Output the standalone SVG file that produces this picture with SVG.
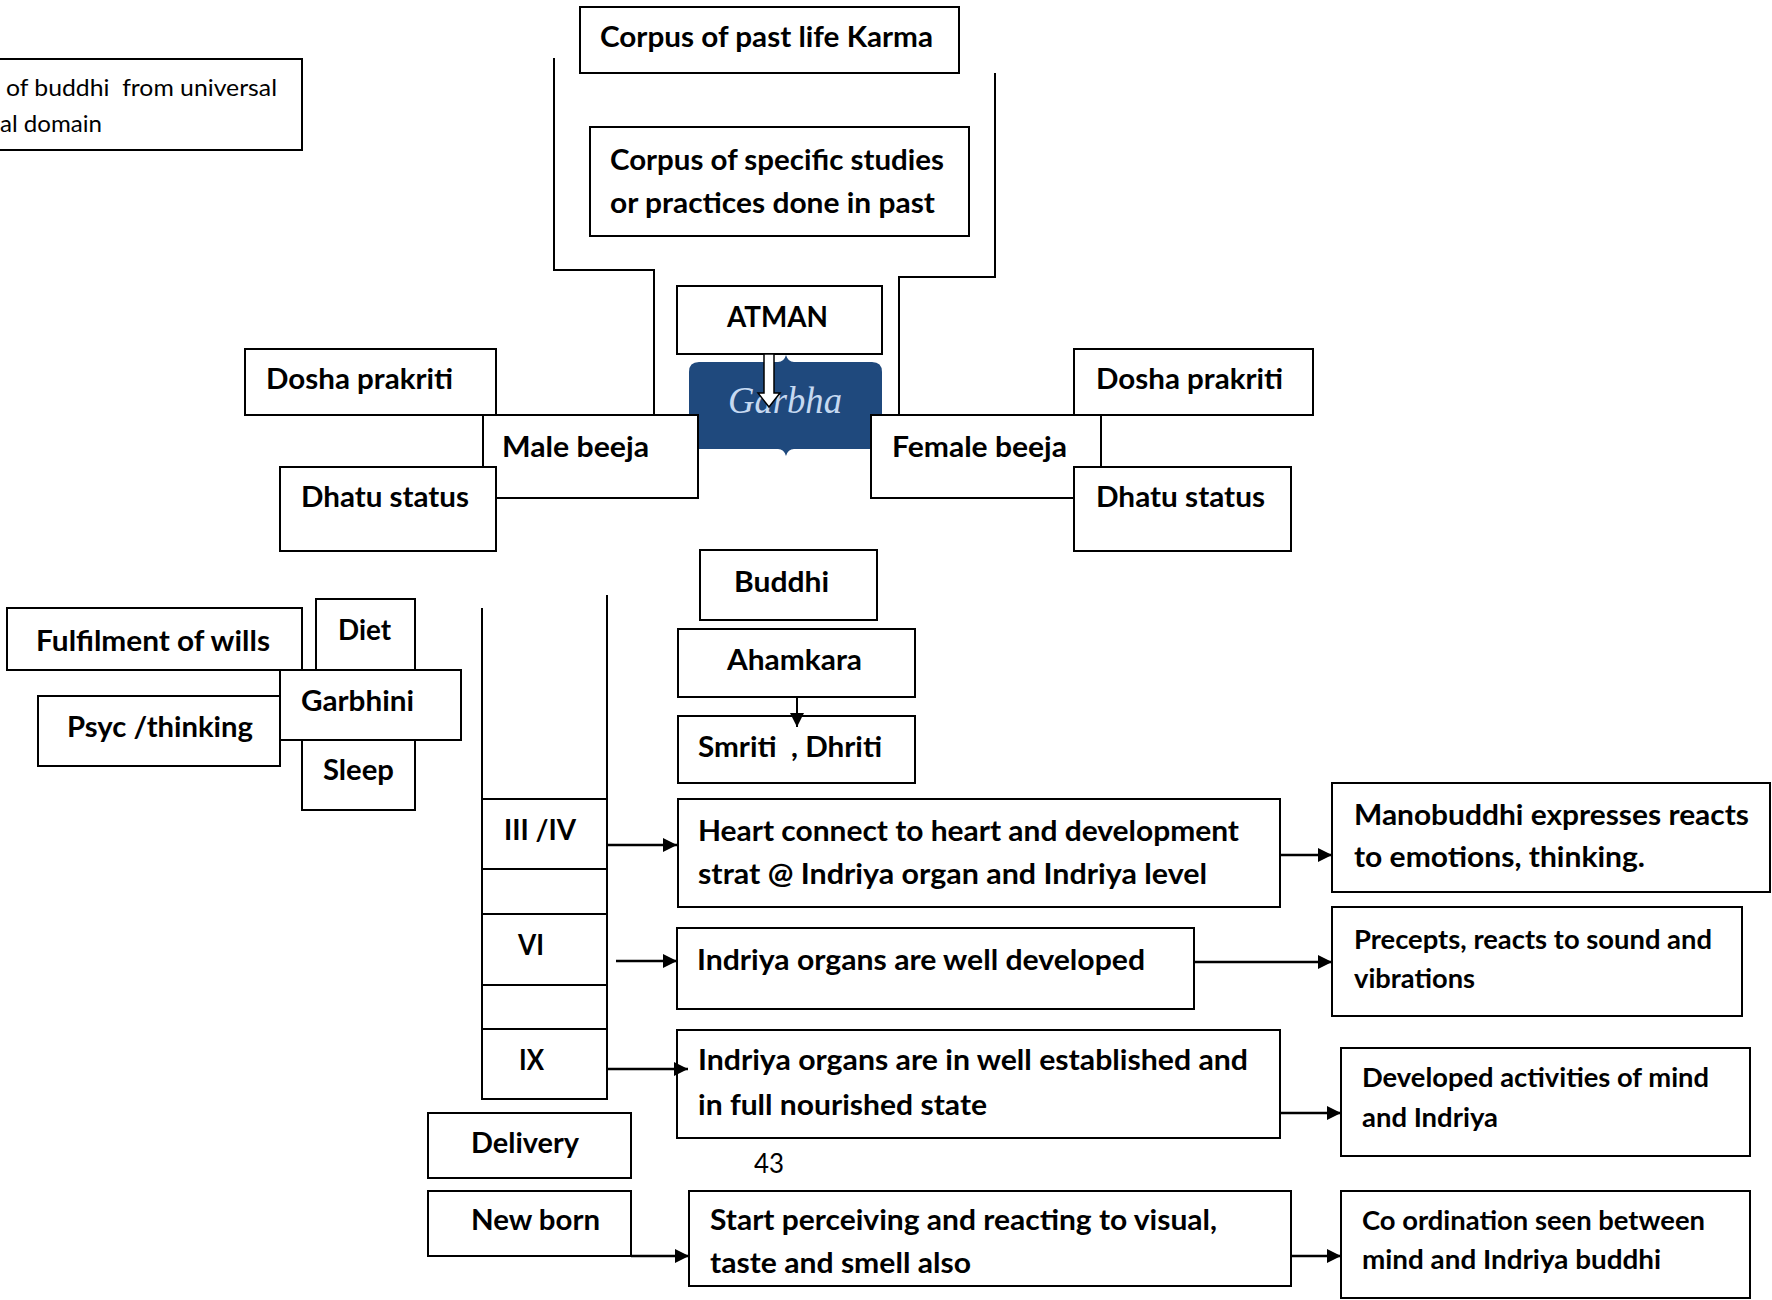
<svg xmlns="http://www.w3.org/2000/svg" width="1772" height="1300" viewBox="0 0 1772 1300">
<style>
.b{fill:#fff;stroke:#000;stroke-width:2}
.t{font-family:Lato,"Liberation Sans",sans-serif;font-weight:bold;font-size:29px;fill:#000}
.s{font-family:Lato,"Liberation Sans",sans-serif;font-weight:bold;font-size:26px;fill:#000}
.r{font-family:Lato,"Liberation Sans",sans-serif;font-weight:normal;font-size:24px;fill:#000}
.ln{fill:none;stroke:#000;stroke-width:2}
.ar{fill:none;stroke:#000;stroke-width:2.5;marker-end:url(#ah)}
</style>
<defs>
<marker id="ah" markerUnits="userSpaceOnUse" markerWidth="15" markerHeight="15" refX="14" refY="7" orient="auto">
<path d="M0,0 L14,7 L0,14 Z" fill="#000"/>
</marker>
</defs>
<rect width="1772" height="1300" fill="#fff"/>

<g id="connectors-brackets">
<polyline class="ln" points="554,58 554,270 654,270 654,415"/>
<polyline class="ln" points="995,73 995,277 899,277 899,415"/>
</g>

<g id="n-buddhi-universal">
<rect class="b" x="-10" y="59" width="312" height="91"/>
<text class="r" x="6" y="96" textLength="271" lengthAdjust="spacingAndGlyphs" xml:space="preserve">of buddhi  from universal</text>
<text class="r" x="0" y="132" textLength="102" lengthAdjust="spacingAndGlyphs">al domain</text>
</g>

<g id="n-karma">
<rect class="b" x="580" y="7" width="379" height="66"/>
<text class="t" x="600" y="47" textLength="333" lengthAdjust="spacingAndGlyphs">Corpus of past life Karma</text>
</g>

<g id="n-studies">
<rect class="b" x="590" y="127" width="379" height="109"/>
<text class="t" x="610" y="170" textLength="334" lengthAdjust="spacingAndGlyphs">Corpus of specific studies</text>
<text class="t" x="610" y="213" textLength="325" lengthAdjust="spacingAndGlyphs">or practices done in past</text>
</g>

<g id="n-atman">
<rect class="b" x="677" y="286" width="205" height="68"/>
<text class="t" x="727" y="327" textLength="101" lengthAdjust="spacingAndGlyphs">ATMAN</text>
</g>

<g id="n-garbha">
<path d="M689,372 Q689,362 699,362 L778,362 Q784,362 786,355 Q788,362 794,362 L872,362 Q882,362 882,372 L882,449 L794,449 Q788,449 786,456 Q784,449 778,449 L689,449 Z" fill="#1f497d"/>
<text x="728" y="413" font-family="'Liberation Serif','DejaVu Serif',serif" font-style="italic" font-size="38" fill="#c6d9f1" textLength="114" lengthAdjust="spacingAndGlyphs">Garbha</text>
</g>

<g id="n-dosha-l">
<rect class="b" x="245" y="349" width="251" height="66"/>
<text class="t" x="266" y="389" textLength="187" lengthAdjust="spacingAndGlyphs">Dosha prakriti</text>
</g>
<g id="n-male">
<rect class="b" x="483" y="415" width="215" height="83"/>
<text class="t" x="502" y="457" textLength="147" lengthAdjust="spacingAndGlyphs">Male beeja</text>
</g>
<g id="n-dhatu-l">
<rect class="b" x="280" y="467" width="216" height="84"/>
<text class="t" x="301" y="507" textLength="168" lengthAdjust="spacingAndGlyphs">Dhatu status</text>
</g>

<g id="n-dosha-r">
<rect class="b" x="1074" y="349" width="239" height="66"/>
<text class="t" x="1096" y="389" textLength="187" lengthAdjust="spacingAndGlyphs">Dosha prakriti</text>
</g>
<g id="n-female">
<rect class="b" x="871" y="415" width="230" height="83"/>
<text class="t" x="892" y="457" textLength="175" lengthAdjust="spacingAndGlyphs">Female beeja</text>
</g>
<g id="n-dhatu-r">
<rect class="b" x="1074" y="467" width="217" height="84"/>
<text class="t" x="1096" y="507" textLength="169" lengthAdjust="spacingAndGlyphs">Dhatu status</text>
</g>

<g id="n-buddhi">
<rect class="b" x="700" y="550" width="177" height="70"/>
<text class="t" x="734" y="592" textLength="95" lengthAdjust="spacingAndGlyphs">Buddhi</text>
</g>
<g id="n-ahamkara">
<rect class="b" x="678" y="629" width="237" height="68"/>
<text class="t" x="727" y="670" textLength="135" lengthAdjust="spacingAndGlyphs">Ahamkara</text>
</g>
<g id="n-smriti">
<rect class="b" x="678" y="716" width="237" height="67"/>
<text class="t" x="698" y="757" textLength="184" lengthAdjust="spacingAndGlyphs" xml:space="preserve">Smriti  , Dhriti</text>
</g>

<g id="n-fulfilment">
<rect class="b" x="7" y="608" width="295" height="62"/>
<text class="t" x="36" y="651" textLength="234" lengthAdjust="spacingAndGlyphs">Fulfilment of wills</text>
</g>
<g id="n-diet">
<rect class="b" x="316" y="599" width="99" height="71"/>
<text class="t" x="338" y="640" textLength="53" lengthAdjust="spacingAndGlyphs">Diet</text>
</g>
<g id="n-garbhini">
<rect class="b" x="280" y="670" width="181" height="70"/>
<text class="t" x="301" y="711" textLength="113" lengthAdjust="spacingAndGlyphs">Garbhini</text>
</g>
<g id="n-psyc">
<rect class="b" x="38" y="696" width="242" height="70"/>
<text class="t" x="67" y="737" textLength="186" lengthAdjust="spacingAndGlyphs">Psyc /thinking</text>
</g>
<g id="n-sleep">
<rect class="b" x="302" y="740" width="113" height="70"/>
<text class="t" x="323" y="780" textLength="71" lengthAdjust="spacingAndGlyphs">Sleep</text>
</g>

<g id="n-months">
<line class="ln" x1="482" y1="608" x2="482" y2="799"/>
<line class="ln" x1="607" y1="595" x2="607" y2="799"/>
<rect class="b" x="482" y="799" width="125" height="70"/>
<rect class="b" x="482" y="869" width="125" height="45"/>
<rect class="b" x="482" y="914" width="125" height="71"/>
<rect class="b" x="482" y="985" width="125" height="44"/>
<rect class="b" x="482" y="1029" width="125" height="70"/>
<text class="t" x="504" y="840" textLength="72" lengthAdjust="spacingAndGlyphs">III /IV</text>
<text class="t" x="518" y="955" textLength="26" lengthAdjust="spacingAndGlyphs">VI</text>
<text class="t" x="519" y="1070" textLength="25" lengthAdjust="spacingAndGlyphs">IX</text>
</g>

<g id="n-heart">
<rect class="b" x="678" y="799" width="602" height="108"/>
<text class="t" x="698" y="841" textLength="541" lengthAdjust="spacingAndGlyphs">Heart connect to heart and development</text>
<text class="t" x="698" y="884" textLength="509" lengthAdjust="spacingAndGlyphs">strat @ Indriya organ and Indriya level</text>
</g>
<g id="n-manobuddhi">
<rect class="b" x="1332" y="783" width="438" height="109"/>
<text class="t" x="1354" y="825" textLength="395" lengthAdjust="spacingAndGlyphs">Manobuddhi expresses reacts</text>
<text class="t" x="1354" y="867" textLength="291" lengthAdjust="spacingAndGlyphs">to emotions, thinking.</text>
</g>
<g id="n-indriya-dev">
<rect class="b" x="677" y="928" width="517" height="81"/>
<text class="t" x="697" y="970" textLength="448" lengthAdjust="spacingAndGlyphs">Indriya organs are well developed</text>
</g>
<g id="n-precepts">
<rect class="b" x="1332" y="907" width="410" height="109"/>
<text class="s" x="1354" y="949" textLength="358" lengthAdjust="spacingAndGlyphs">Precepts, reacts to sound and</text>
<text class="s" x="1354" y="988" textLength="121" lengthAdjust="spacingAndGlyphs">vibrations</text>
</g>
<g id="n-established">
<rect class="b" x="677" y="1030" width="603" height="108"/>
<text class="t" x="698" y="1070" textLength="550" lengthAdjust="spacingAndGlyphs">Indriya organs are in well established and</text>
<text class="t" x="698" y="1115" textLength="289" lengthAdjust="spacingAndGlyphs">in full nourished state</text>
</g>
<g id="n-developed">
<rect class="b" x="1341" y="1048" width="409" height="108"/>
<text class="s" x="1362" y="1087" textLength="347" lengthAdjust="spacingAndGlyphs">Developed activities of mind</text>
<text class="s" x="1362" y="1127" textLength="136" lengthAdjust="spacingAndGlyphs">and Indriya</text>
</g>
<g id="n-delivery">
<rect class="b" x="428" y="1113" width="203" height="65"/>
<text class="t" x="471" y="1153" textLength="108" lengthAdjust="spacingAndGlyphs">Delivery</text>
</g>
<text id="page-number" x="754" y="1173" font-family="Lato,'Liberation Sans',sans-serif" font-size="27" fill="#000" textLength="30" lengthAdjust="spacingAndGlyphs">43</text>
<g id="n-newborn">
<rect class="b" x="428" y="1191" width="203" height="65"/>
<text class="t" x="471" y="1230" textLength="129" lengthAdjust="spacingAndGlyphs">New born</text>
</g>
<g id="n-start">
<rect class="b" x="689" y="1191" width="602" height="95"/>
<text class="t" x="710" y="1230" textLength="507" lengthAdjust="spacingAndGlyphs">Start perceiving and reacting to visual,</text>
<text class="t" x="710" y="1273" textLength="261" lengthAdjust="spacingAndGlyphs">taste and smell also</text>
</g>
<g id="n-coordination">
<rect class="b" x="1341" y="1191" width="409" height="107"/>
<text class="s" x="1362" y="1230" textLength="343" lengthAdjust="spacingAndGlyphs">Co ordination seen between</text>
<text class="s" x="1362" y="1269" textLength="299" lengthAdjust="spacingAndGlyphs">mind and Indriya buddhi</text>
</g>

<g id="connectors">
<polygon points="764,354 774,354 774,393 780,393 769,407 758,393 764,393" fill="#fff" stroke="#000" stroke-width="1.5"/>
<line class="ar" x1="797" y1="697" x2="797" y2="727" style="stroke-width:2"/>
<line class="ar" x1="607" y1="845" x2="677" y2="845"/>
<line class="ar" x1="616" y1="961" x2="677" y2="961"/>
<line class="ar" x1="607" y1="1069" x2="688" y2="1069"/>
<line class="ar" x1="1280" y1="855" x2="1332" y2="855"/>
<line class="ar" x1="1194" y1="962" x2="1332" y2="962"/>
<line class="ar" x1="1280" y1="1113" x2="1341" y2="1113"/>
<line class="ar" x1="631" y1="1256" x2="689" y2="1256"/>
<line class="ar" x1="1291" y1="1256" x2="1341" y2="1256"/>
</g>
</svg>
